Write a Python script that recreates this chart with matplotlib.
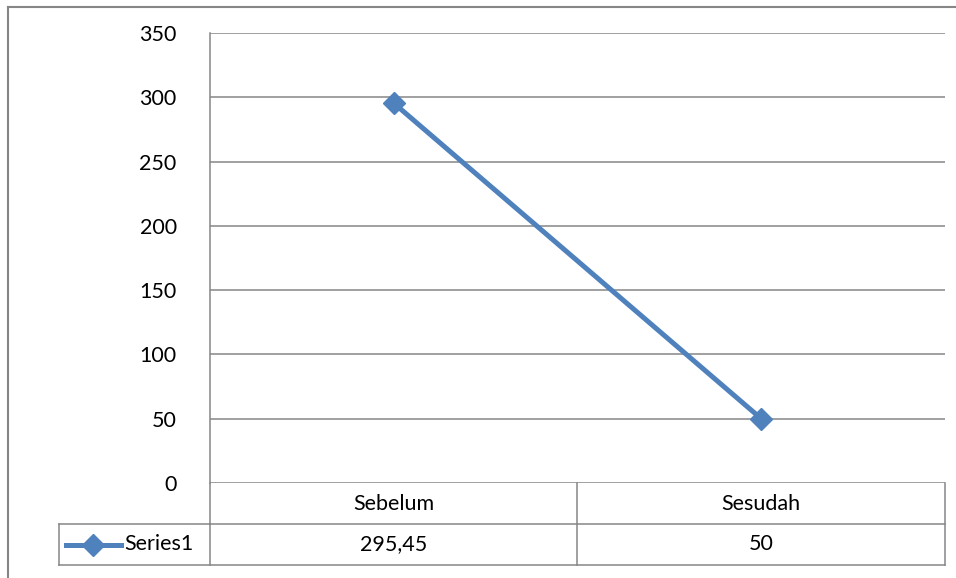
import matplotlib
matplotlib.use("Agg")
import matplotlib.pyplot as plt
from matplotlib.lines import Line2D
from matplotlib.patches import Rectangle

categories = ["Sebelum", "Sesudah"]
values = [295.45, 50]
value_labels = ["295,45", "50"]
series_name = "Series1"
yticks = [0, 50, 100, 150, 200, 250, 300, 350]

W, H = 956, 578
fig = plt.figure(figsize=(W / 100, H / 100), dpi=100)
plt.rcParams['font.family'] = ['Lato', 'DejaVu Sans']
FS = 15.5

def fx(px):
    return px / W

def fy(py):
    return 1 - py / H

ax_left, ax_right, ax_top, ax_bot = 210, 945, 33, 483
ax = fig.add_axes([fx(ax_left), fy(ax_bot), fx(ax_right - ax_left), (ax_bot - ax_top) / H])

grid_c = "#868686"
line_c = "#4F81BD"

x = list(range(len(categories)))
ax.plot(x, values, color=line_c, lw=3.6, marker="D", markersize=11, zorder=3, clip_on=False)
ax.set_xlim(-0.5, len(categories) - 0.5)
ax.set_ylim(0, 350)
ax.set_yticks(yticks)
ax.set_yticklabels([str(t) for t in yticks], fontsize=FS)
ax.tick_params(axis='y', length=0, pad=24)
ax.set_xticks([])
for y in yticks:
    ax.axhline(y, color=grid_c, lw=1.1, zorder=1)
for s in ["top", "right", "bottom"]:
    ax.spines[s].set_visible(False)
ax.spines["left"].set_color(grid_c)
ax.spines["left"].set_linewidth(1.1)

# data table
row1_top, row1_bot, row2_bot = 483, 524, 565
col_bounds = [210, 577, 945]
legend_left = 59

def hline(x0, x1, y):
    fig.add_artist(Line2D([fx(x0), fx(x1)], [fy(y), fy(y)], color=grid_c, lw=1.1))

def vline(x0, y0, y1):
    fig.add_artist(Line2D([fx(x0), fx(x0)], [fy(y0), fy(y1)], color=grid_c, lw=1.1))

hline(210, 945, row1_bot)
hline(legend_left, 210, row1_bot)
hline(legend_left, 945, row2_bot)
vline(210, row1_top, row2_bot)
vline(577, row1_top, row2_bot)
vline(945, row1_top, row2_bot)
vline(legend_left, row1_bot, row2_bot)

for i, cat in enumerate(categories):
    cx = (col_bounds[i] + col_bounds[i + 1]) / 2
    fig.text(fx(cx), fy((row1_top + row1_bot) / 2), cat, ha="center", va="center", fontsize=FS)
    fig.text(fx(cx), fy((row1_bot + row2_bot) / 2), value_labels[i], ha="center", va="center", fontsize=FS)

ly = fy((row1_bot + row2_bot) / 2)
fig.add_artist(Line2D([fx(66), fx(121)], [ly, ly], color=line_c, lw=3.6))
fig.add_artist(Line2D([fx(93)], [ly], color=line_c, marker="D", markersize=11, lw=0))
fig.text(fx(124), ly, series_name, ha="left", va="center", fontsize=FS)

# outer chart border (top and left edges visible)
fig.add_artist(Line2D([fx(8), fx(956)], [fy(7), fy(7)], color=grid_c, lw=1.5))
fig.add_artist(Line2D([fx(8), fx(8)], [fy(7), fy(578)], color=grid_c, lw=1.5))

fig.savefig("out.png", dpi=100)
